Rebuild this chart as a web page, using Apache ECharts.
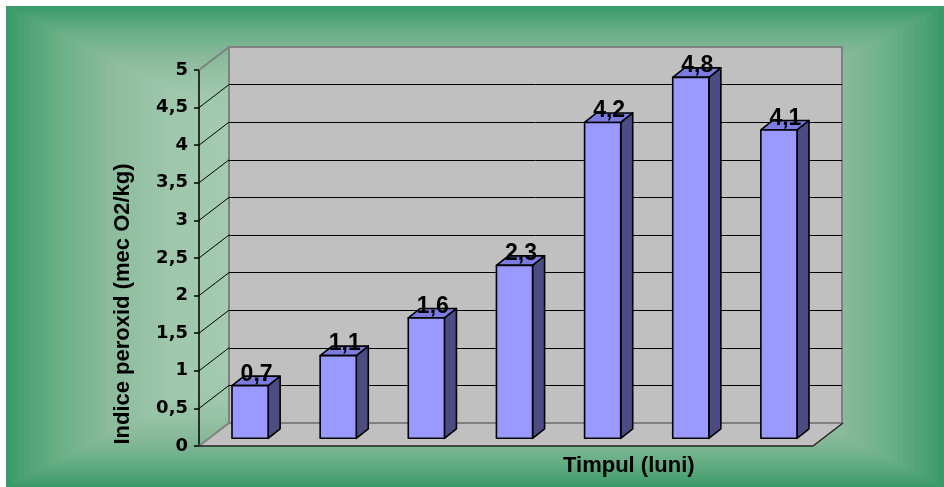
<!DOCTYPE html>
<html>
<head>
<meta charset="utf-8">
<script src="https://cdn.jsdelivr.net/npm/echarts@6/dist/echarts.min.js"></script>
<style>
  html, body { margin: 0; padding: 0; background: #ffffff; }
  #chart { width: 944px; height: 487px; }
</style>
</head>
<body>
<div id="chart"></div>
<script>
// Peroxide index over storage time (months)
const months = ['1', '2', '3', '4', '5', '6', '7'];
const peroxideValues = [0.7, 1.1, 1.6, 2.3, 4.2, 4.8, 4.1];
const yTicks = [0, 0.5, 1, 1.5, 2, 2.5, 3, 3.5, 4, 4.5, 5];
const yAxisTitle = 'Indice peroxid (mec O2/kg)';
const xAxisTitle = 'Timpul (luni)';

const FONT = '"Liberation Sans", Arial, sans-serif';
const TICK_FONT = '"DejaVu Sans", "Liberation Sans", sans-serif';
const WALL_DEPTH = [30, -23];   // offset from front axis plane to back wall
const BAR_DEPTH = [12, -9.5];   // depth of each column

const fmt = v => String(v).replace('.', ',');

// Rectangular "from centre" gradient for the chart area
function backgroundRects() {
  const x0 = 6, y0 = 6, w = 938, h = 481;
  const stops = [
    [0.00, [56, 152, 104]],
    [0.05, [80, 164, 120]],
    [0.12, [108, 176, 136]],
    [0.22, [139, 187, 156]],
    [0.35, [158, 199, 172]],
    [0.60, [170, 207, 183]],
    [1.00, [178, 212, 190]]
  ];
  function colorAt(t) {
    for (let i = 1; i < stops.length; i++) {
      if (t <= stops[i][0]) {
        const a = stops[i - 1], b = stops[i];
        const k = (t - a[0]) / (b[0] - a[0]);
        const c = a[1].map((v, j) => Math.round(v + (b[1][j] - v) * k));
        return 'rgb(' + c.join(',') + ')';
      }
    }
    return 'rgb(' + stops[stops.length - 1][1].join(',') + ')';
  }
  const n = 80, els = [];
  for (let i = 0; i < n; i++) {
    const t = i / n;
    const dx = t * w / 2, dy = t * h / 2;
    els.push({
      type: 'rect', z: -10, silent: true,
      shape: { x: x0 + dx, y: y0 + dy, width: w - 2 * dx, height: h - 2 * dy },
      style: { fill: colorAt(t + 0.5 / n) }
    });
  }
  return els;
}

const chart = echarts.init(document.getElementById('chart'), null, { renderer: 'canvas' });

const splitColors = yTicks.map(v => (v === 0 || v === 5) ? 'rgba(0,0,0,0)' : '#000000');

chart.setOption({
  animation: false,
  backgroundColor: 'transparent',
  graphic: { elements: backgroundRects() },
  title: {
    text: xAxisTitle,
    left: 563, top: 455, padding: 0,
    textStyle: { fontFamily: FONT, fontSize: 22, fontWeight: 'bold', color: '#000' }
  },
  grid: [
    // front axis plane
    { left: 199, top: 70, width: 614, height: 376 },
    // back wall
    { left: 229, top: 47, width: 613, height: 376, show: true,
      backgroundColor: '#c0c0c0', borderColor: '#808080', borderWidth: 2 },
    // plane of the column fronts
    { left: 206, top: 62.3, width: 617, height: 376 }
  ],
  xAxis: [
    { gridIndex: 0, type: 'category', data: months, show: false },
    { gridIndex: 1, type: 'category', data: months, show: false },
    { gridIndex: 2, type: 'category', data: months, show: false }
  ],
  yAxis: [
    {
      gridIndex: 0, type: 'value', min: 0, max: 5, interval: 0.5,
      name: yAxisTitle, nameLocation: 'middle', nameGap: 65,
      nameTextStyle: { fontFamily: FONT, fontSize: 22, fontWeight: 'bold', color: '#000', padding: [0, 92, 0, 0] },
      axisLine: { show: true, lineStyle: { color: '#000', width: 1.5 } },
      axisTick: { show: true, length: 5, lineStyle: { color: '#000', width: 1.5 } },
      axisLabel: { formatter: v => fmt(v), margin: 11, fontFamily: TICK_FONT, fontSize: 18, fontWeight: 'bold', color: '#000' },
      splitLine: { show: false }
    },
    {
      gridIndex: 1, type: 'value', min: 0, max: 5, interval: 0.5,
      axisLine: { show: false }, axisTick: { show: false }, axisLabel: { show: false },
      splitLine: { show: true, lineStyle: { color: splitColors, width: 1 } }
    },
    { gridIndex: 2, type: 'value', min: 0, max: 5, interval: 0.5, show: false, splitLine: { show: false } }
  ],
  series: [
    {
      // floor
      type: 'custom', xAxisIndex: 0, yAxisIndex: 0, z: 1, silent: true,
      data: [[0, 0]],
      renderItem: (params, api) => {
        const cs = params.coordSys;
        const y = api.coord([0, 0])[1];
        const xl = cs.x, xr = cs.x + cs.width;
        const [dx, dy] = WALL_DEPTH;
        return {
          type: 'group',
          children: [
            { type: 'polygon', shape: { points: [[xl, y], [xr, y], [xr + dx, y + dy], [xl + dx, y + dy]] },
              style: { fill: '#c0c0c0', stroke: null } },
            { type: 'line', shape: { x1: xl, y1: y, x2: xl + dx, y2: y + dy }, style: { stroke: '#808080', lineWidth: 2 } },
            { type: 'line', shape: { x1: xl + dx, y1: y + dy, x2: xr + dx, y2: y + dy }, style: { stroke: '#808080', lineWidth: 2 } },
            { type: 'line', shape: { x1: xl, y1: y, x2: xr, y2: y }, style: { stroke: '#222', lineWidth: 1.5 } },
            { type: 'line', shape: { x1: xr, y1: y, x2: xr + dx, y2: y + dy }, style: { stroke: '#222', lineWidth: 1.5 } }
          ]
        };
      }
    },
    {
      // side wall grid lines joining the axis ticks to the back wall
      type: 'custom', xAxisIndex: 0, yAxisIndex: 0, z: 2, silent: true,
      data: yTicks.filter(v => v > 0).map(v => [0, v]),
      renderItem: (params, api) => {
        const v = api.value(1);
        const cs = params.coordSys;
        const y = api.coord([0, v])[1];
        const [dx, dy] = WALL_DEPTH;
        const edge = v === 5;
        return {
          type: 'line',
          shape: { x1: cs.x, y1: y, x2: cs.x + dx, y2: y + dy },
          style: { stroke: edge ? '#808080' : '#000', lineWidth: edge ? 2 : 1 }
        };
      }
    },
    {
      // 3D columns with value labels
      type: 'custom', xAxisIndex: 2, yAxisIndex: 2, z: 5,
      data: peroxideValues.map((v, i) => [i, v]),
      renderItem: (params, api) => {
        const idx = api.value(0), val = api.value(1);
        const top = api.coord([idx, val]);
        const base = api.coord([idx, 0]);
        const half = api.size([1, 0])[0] * 0.205;
        const x0 = top[0] - half, x1 = top[0] + half;
        const yt = top[1], yb = base[1];
        const [dx, dy] = BAR_DEPTH;
        const line = { stroke: '#000', lineWidth: 1.6, lineJoin: 'round' };
        return {
          type: 'group',
          children: [
            { type: 'polygon', shape: { points: [[x1, yt], [x1 + dx, yt + dy], [x1 + dx, yb + dy], [x1, yb]] },
              style: Object.assign({ fill: '#4c4c82' }, line) },
            { type: 'polygon', shape: { points: [[x0, yt], [x1, yt], [x1 + dx, yt + dy], [x0 + dx, yt + dy]] },
              style: Object.assign({ fill: '#7b7be0' }, line) },
            { type: 'rect', shape: { x: x0, y: yt, width: x1 - x0, height: yb - yt },
              style: Object.assign({ fill: '#9999ff' }, line) },
            { type: 'text', z2: 10,
              style: { text: fmt(val), x: top[0] + 6.5, y: yt - 11.5, align: 'center', verticalAlign: 'middle',
                       font: 'bold 23px ' + FONT, fill: '#000' } }
          ]
        };
      }
    }
  ]
});
</script>
</body>
</html>
